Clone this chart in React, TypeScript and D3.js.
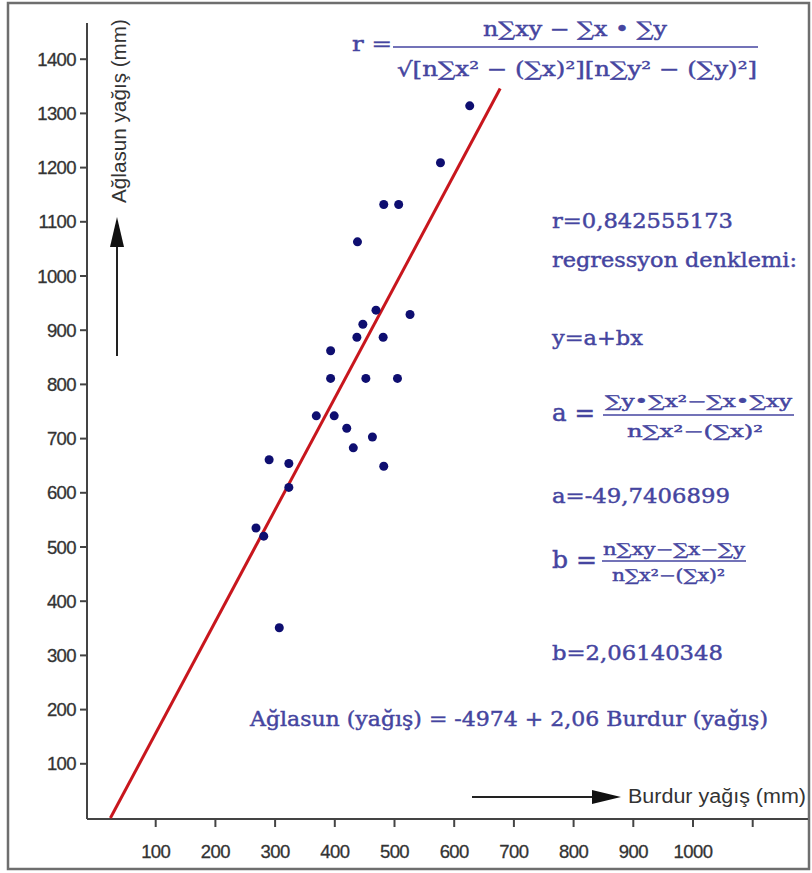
import React from "react";
import * as d3 from "d3";

// Data
const burdurRain = [626, 577, 482, 507, 438, 469, 526, 447, 437, 481, 393, 393, 452, 505, 369, 399, 420, 463, 431, 290, 323, 482, 323, 268, 281, 307];
const aglasunRain = [1314, 1209, 1132, 1132, 1063, 937, 929, 911, 887, 887, 862, 811, 811, 811, 742, 742, 719, 703, 683, 661, 654, 649, 610, 535, 520, 351];

const xTickValues = [100, 200, 300, 400, 500, 600, 700, 800, 900, 1000, 1100];
const xTickLabels = ["100", "200", "300", "400", "500", "600", "700", "800", "900", "1000", ""];
const yTickValues = [100, 200, 300, 400, 500, 600, 700, 800, 900, 1000, 1100, 1200, 1300, 1400];
const yTickLabels = ["100", "200", "300", "400", "500", "600", "700", "800", "900", "1000", "1100", "1200", "1300", "1400"];

// Regression coefficients shown in the chart
const regA = -49.7406899;
const regB = 2.06140348;
const regLineXExtent = [24.13, 677];

const xTitle = "Burdur yağış (mm)";
const yTitle = "Ağlasun yağış (mm)";
const rFormulaLeft = "r =";
const rFormulaNum = "n∑xy − ∑x • ∑y";
const rFormulaDen = "√[n∑x² − (∑x)²][n∑y² − (∑y)²]";
const rValue = "r=0,842555173";
const regTitle = "regressyon denklemi:";
const regModel = "y=a+bx";
const aLeft = "a =";
const aNum = "∑y•∑x²−∑x•∑xy";
const aDen = "n∑x²−(∑x)²";
const aValue = "a=-49,7406899";
const bLeft = "b =";
const bNum = "n∑xy−∑x−∑y";
const bDen = "n∑x²−(∑x)²";
const bValue = "b=2,06140348";
const finalEq = "Ağlasun (yağış) = -4974 + 2,06 Burdur (yağış)";

const W = 812;
const H = 873;
const BLUE = "#4545a0";
const SERIF = "'DejaVu Serif', 'Liberation Serif', serif";
const SANS = "'Liberation Sans', Arial, sans-serif";

export default function App() {
  const x = d3.scaleLinear().domain([0, 1000]).range([96, 693]);
  const y = d3.scaleLinear().domain([0, 1400]).range([818, 59.2]);

  const axisY = 819;
  const axisX = 87;

  const lineGen = d3
    .line<number>()
    .x((d) => x(d))
    .y((d) => y(regA + regB * d));

  const T = (
    txt: string,
    px: number,
    py: number,
    len: number,
    size: number,
    extra: any = {}
  ) => (
    <text
      x={px}
      y={py}
      fontFamily={SERIF}
      fontSize={size}
      fill={BLUE}
      stroke={BLUE}
      strokeWidth={0.45}
      textLength={len}
      lengthAdjust="spacingAndGlyphs"
      {...extra}
    >
      {txt}
    </text>
  );

  return (
    <svg
      width={W}
      height={H}
      style={{ position: "absolute", left: 0, top: 0, background: "#fff" }}
    >
      <rect x={0} y={0} width={W} height={H} fill="#fff" />
      <rect x={8} y={3} width={801} height={866} fill="#fff" stroke="#6e6e6e" strokeWidth={2.5} />

      {/* axes */}
      <line x1={axisX} y1={23} x2={axisX} y2={axisY} stroke="#444" strokeWidth={2} />
      <line x1={axisX} y1={axisY} x2={808} y2={axisY} stroke="#444" strokeWidth={2} />

      {yTickValues.map((v, i) => (
        <g key={"yt" + v}>
          <line x1={axisX - 7} x2={axisX} y1={y(v)} y2={y(v)} stroke="#444" strokeWidth={2} />
          <text
            x={76}
            y={y(v) + 6.5}
            textAnchor="end"
            fontFamily={SANS}
            fontSize={18.5}
            fill="#333"
            stroke="#333"
            strokeWidth={0.3}
            letterSpacing={-0.6}
          >
            {yTickLabels[i]}
          </text>
        </g>
      ))}

      {xTickValues.map((v, i) => (
        <g key={"xt" + v}>
          <line x1={x(v)} x2={x(v)} y1={axisY} y2={axisY + 8} stroke="#444" strokeWidth={2} />
          <text
            x={x(v)}
            y={858}
            textAnchor="middle"
            fontFamily={SANS}
            fontSize={18.5}
            fill="#333"
            stroke="#333"
            strokeWidth={0.3}
            letterSpacing={-0.6}
          >
            {xTickLabels[i]}
          </text>
        </g>
      ))}

      {/* y-axis title and arrow */}
      <text
        transform="translate(126,203) rotate(-90)"
        fontFamily={SANS}
        fontSize={20}
        fill="#333"
        textLength={184}
        lengthAdjust="spacingAndGlyphs"
      >
        {yTitle}
      </text>
      <line x1={117} y1={356} x2={117} y2={240} stroke="#222" strokeWidth={2} />
      <path d="M117,217 L110,247 L124,247 Z" fill="#111" />

      {/* x-axis title and arrow */}
      <line x1={472} y1={797} x2={596} y2={797} stroke="#222" strokeWidth={2} />
      <path d="M621,797 L592,790 L592,804 Z" fill="#111" />
      <text
        x={628}
        y={803}
        fontFamily={SANS}
        fontSize={20}
        fill="#333"
        textLength={178}
        lengthAdjust="spacingAndGlyphs"
      >
        {xTitle}
      </text>

      {/* regression line */}
      <path d={lineGen(regLineXExtent) || ""} stroke="#c8161d" strokeWidth={3} fill="none" />

      {/* points */}
      {burdurRain.map((bv, i) => (
        <circle key={"p" + i} cx={x(bv)} cy={y(aglasunRain[i])} r={4.5} fill="#0e0e70" />
      ))}

      {/* top formula */}
      {T(rFormulaLeft, 352, 51, 40, 21)}
      {T(rFormulaNum, 483, 36, 184, 20)}
      <line x1={393} x2={758} y1={47} y2={47} stroke={BLUE} strokeWidth={1.6} />
      {T(rFormulaDen, 397, 76, 360, 20)}

      {/* right-side texts */}
      {T(rValue, 552, 228, 181, 21)}
      {T(regTitle, 552, 267, 245, 21)}
      {T(regModel, 552, 345, 91, 21)}

      {T(aLeft, 552, 421, 43, 25)}
      {T(aNum, 605, 407, 187, 16)}
      <line x1={603} x2={794} y1={415} y2={415} stroke={BLUE} strokeWidth={1.3} />
      {T(aDen, 627, 437, 136, 16)}

      {T(aValue, 552, 503, 178, 21)}

      {T(bLeft, 552, 568, 45, 25)}
      {T(bNum, 603, 555, 142, 16)}
      <line x1={602} x2={746} y1={561} y2={561} stroke={BLUE} strokeWidth={1.3} />
      {T(bDen, 612, 581, 113, 16)}

      {T(bValue, 552, 660, 171, 21)}

      {T(finalEq, 250, 726, 518, 21)}
    </svg>
  );
}
